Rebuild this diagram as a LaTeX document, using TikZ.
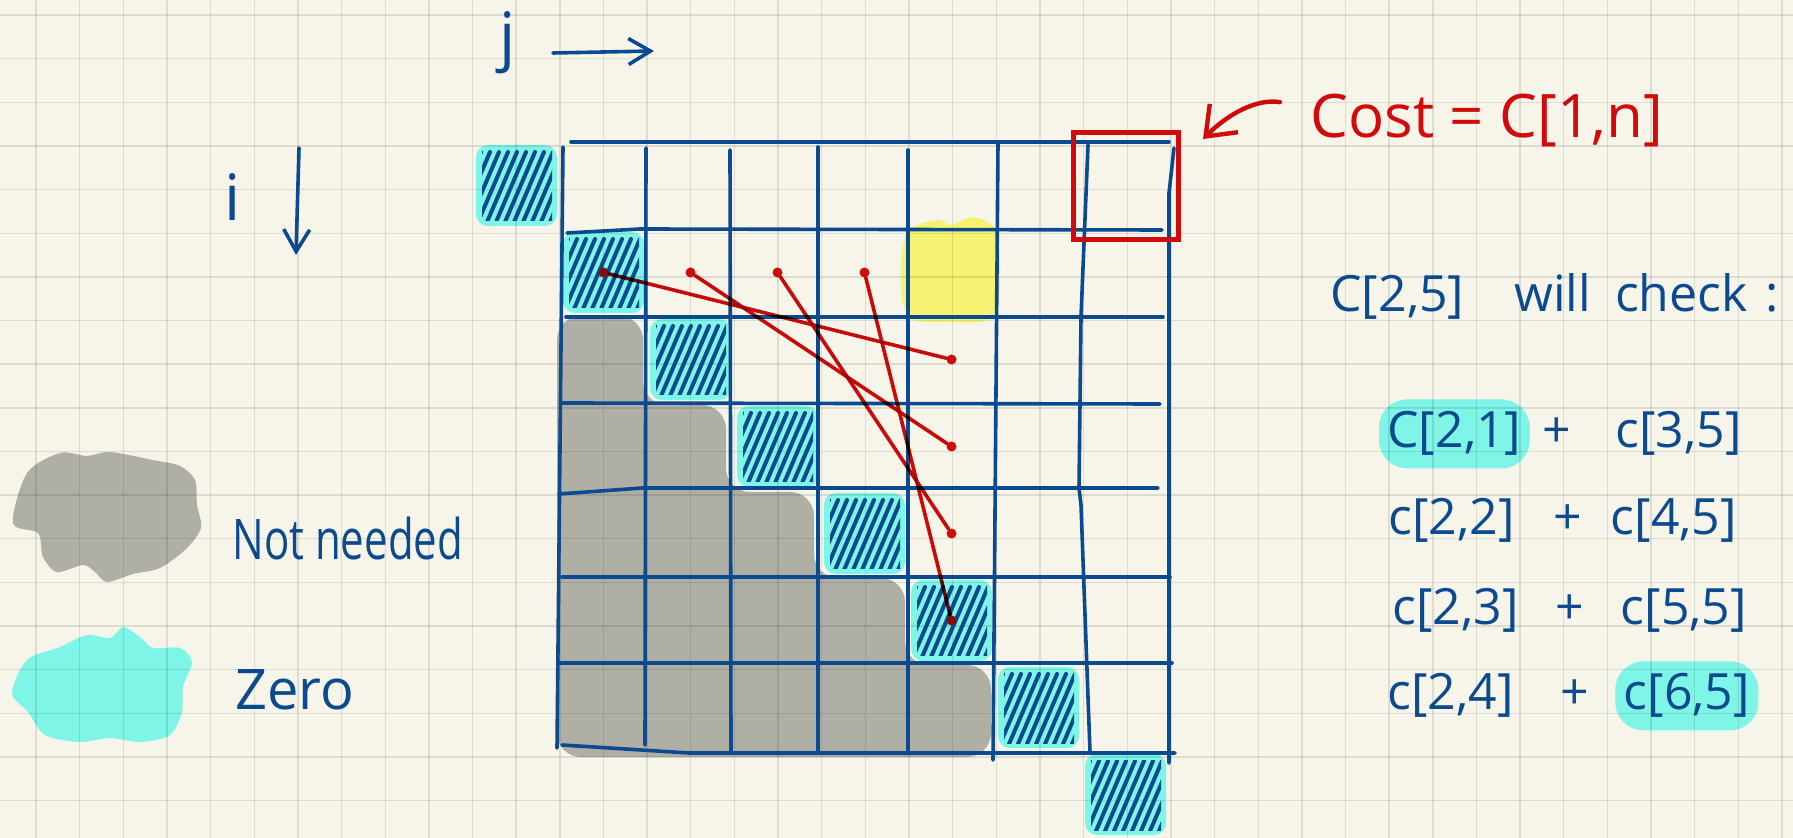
\documentclass[tikz,border=0pt]{standalone}
\usepackage{fontspec}
\setmainfont{Open Sans}
\usepackage{graphicx}
\usetikzlibrary{positioning,arrows.meta}
\definecolor{paper}{HTML}{F7F5EA}
\definecolor{inkblue}{HTML}{0B4A8E}
\definecolor{markred}{HTML}{D10A0A}
\definecolor{markdark}{HTML}{8A0A0A}
\definecolor{zerocyan}{HTML}{7EF5E6}
\definecolor{notgray}{HTML}{B0AFA6}
\definecolor{hiyellow}{HTML}{F5F371}
\pgfdeclarelayer{bg}
\pgfdeclarelayer{ruling}
\pgfsetlayers{bg,ruling,main}
\tikzset{
ink/.style={draw=inkblue,line width=1.8pt,line cap=round,line join=round},
inkarrow/.style={ink,-{Straight Barb[length=11pt,width=13pt]}},
ruled/.style={draw=black,opacity=0.1,line width=0.7pt},
redline/.style={draw=markred,line width=1.8pt,line cap=round},
reddot/.style={circle,fill=#1,inner sep=0pt,minimum size=5pt},
reddot/.default=markred,
hatch/.style={draw=inkblue,line width=2pt,line cap=round},
hand/.style={text=inkblue,inner sep=0pt,anchor=base west},
term/.style={hand,inner xsep=4pt,inner ysep=6pt,font=\fontsize{25}{30}\selectfont},
hl/.style={fill=zerocyan,rounded corners=14pt}
}

\begin{document}
\begin{tikzpicture}[x=0.5pt,y=-0.5pt]

\useasboundingbox (0,0) rectangle (1793,838);

\begin{pgfonlayer}{bg}
\fill[paper] (0,0) rectangle (1793,838);
\fill[notgray,rounded corners=12pt] (557,316) -- (643,316) -- (643,405) -- (726,405)
  -- (726,492) -- (814,492) -- (814,578) -- (905,578) -- (905,665) -- (991,665)
  -- (991,757) -- (557,757) -- cycle;
\fill[hiyellow] plot[smooth cycle] coordinates {(902,300) (902,250) (912,228) (938,220)
  (951,225) (972,217) (995,228) (1000,260) (998,305) (985,321) (950,322) (915,320)};
\foreach \k in {-1,...,6}
  \fill[zerocyan,rounded corners=6pt] ({563+87*\k},{232+87*\k}) rectangle ++(81,81);
\fill[notgray] plot[smooth cycle] coordinates {(13,523) (27,473) (60,453) (87,456)
  (110,452) (153,460) (180,466) (195,480) (197,505) (201,528) (186,549) (160,568)
  (133,574) (107,582) (95,572) (83,565) (57,572) (43,557) (38,533)};
\fill[zerocyan] plot[smooth cycle] coordinates {(12,693) (27,660) (60,647) (87,635)
  (110,638) (123,627) (140,637) (153,648) (180,648) (192,662) (183,687) (182,712)
  (170,735) (140,742) (110,738) (80,742) (45,735) (28,712)};
\end{pgfonlayer}

\begin{pgfonlayer}{ruling}
\foreach \k in {0,...,40}
  \draw[ruled] ({36+43.65*\k},0) -- ++(0,838);
\foreach \k in {0,...,18}
  \draw[ruled] (0,{15+43.65*\k}) -- ++(1793,0);
\end{pgfonlayer}

\draw[ink] (571,142) -- (1169,142);
\draw[ink] (567,233) -- (640,229) -- (1162,230);
\draw[ink] (566,317) -- (1163,317);
\draw[ink] (561,403) -- (1160,404);
\draw[ink] (559,494) -- (642,488) -- (1158,488);
\draw[ink] (562,577) -- (1170,577);
\draw[ink] (558,663) -- (1172,663);
\draw[ink] (562,745) -- (689,753) -- (1175,753);

\draw[ink] (563,147) -- (557,748);
\draw[ink] (646,148) -- (645,745);
\draw[ink] (730,150) -- (731,752);
\draw[ink] (818,147) -- (818,752);
\draw[ink] (908,150) -- (908,752);
\draw[ink] (998,143) -- (993,760);
\draw[ink] (1088,145) -- (1081,317) -- (1079,488) -- (1081,505) -- (1090,752);
\draw[ink] (1174,148) -- (1169,193) -- (1169,763);

\foreach \k in {-1,...,6}{
\begin{scope}[shift={({560+87*\k},{229+87*\k})}]
\clip (9,9) rectangle (79,79);
\foreach \a in {-22,-13,...,78}
  \draw[hatch] (\a,80) -- ++(30,-70);
\end{scope}
}

\foreach \j/\col in {1/markdark,2/markred,3/markred,4/markred}
  \node[reddot=\col] (c2\j) at ({516.5+87*\j},272.5) {};
\foreach \i/\col in {3/markred,4/markred,5/markred,6/markdark}
  \node[reddot=\col] (c\i5) at (951.5,{98.5+87*\i}) {};
\begin{scope}[blend mode=multiply]
\foreach \j/\i in {1/3,2/4,3/5,4/6}
  \draw[redline] (c2\j) -- (c\i5);
\end{scope}

\node[draw=markred,line width=2.5pt,minimum width=52.5pt,minimum height=53.5pt,inner sep=0pt]
  (costbox) at (1126,186) {};
\node[hand,text=markred,font=\fontsize{30}{36}\selectfont] (cost) at (1310,138) {Cost = C[1,n]};
\draw[draw=markred,line width=2.2pt,line cap=round,line join=round,-{Straight Barb[length=13pt,width=20pt]}]
  ([shift={(-15pt,-4pt)}]cost.north west) .. controls +(-12pt,2pt) and +(12pt,12pt)
  .. ([shift={(11pt,-4.5pt)}]costbox.north east);

\node[hand,anchor=base,font=\fontsize{32}{38}\selectfont] (jlbl) at (508,59) {j};
\node[hand,anchor=base,font=\fontsize{32}{38}\selectfont] (ilbl) at (233,221) {i};
\coordinate (jfrom) at (553,53);
\coordinate (jto) at (654,51);
\coordinate (ifrom) at (299,148);
\coordinate (ito) at (296,255);
\draw[inkarrow] (jfrom) -- (jto);
\draw[inkarrow] (ifrom) -- (ito);

\node[hand,font=\fontsize{28}{34}\selectfont] (notneeded) at (232,560) {\scalebox{0.75}[1]{Not needed}};
\node[hand,font=\fontsize{28}{34}\selectfont] (zero) at (235,710) {Zero};

\node[hand,font=\fontsize{25}{30}\selectfont] (check) at (1330,312)
  {C[2,5]\hspace{25pt}will\hspace{12pt}check\hspace{9pt}:};

\node[term] (e1l) at (1379,448) {C[2,1]};
\node[term,base right=2pt of e1l] (e1p) {+};
\node[term,base right=14pt of e1p] (e1r) {c[3,5]};

\node[term] (e2l) at (1380,535) {c[2,2]};
\node[term,base right=11pt of e2l] (e2p) {+};
\node[term,base right=6pt of e2p] (e2r) {c[4,5]};

\node[term] (e3l) at (1384,625) {c[2,3]};
\node[term,base right=10pt of e3l] (e3p) {+};
\node[term,base right=10pt of e3p] (e3r) {c[5,5]};

\node[term] (e4l) at (1379,710) {c[2,4]};
\node[term,base right=15pt of e4l] (e4p) {+};
\node[term,base right=9pt of e4p] (e4r) {c[6,5]};

\begin{pgfonlayer}{bg}
\fill[hl] (e1l.south west) rectangle (e1l.north east);
\fill[hl] (e4r.south west) rectangle (e4r.north east);
\end{pgfonlayer}

\end{tikzpicture}
\end{document}
